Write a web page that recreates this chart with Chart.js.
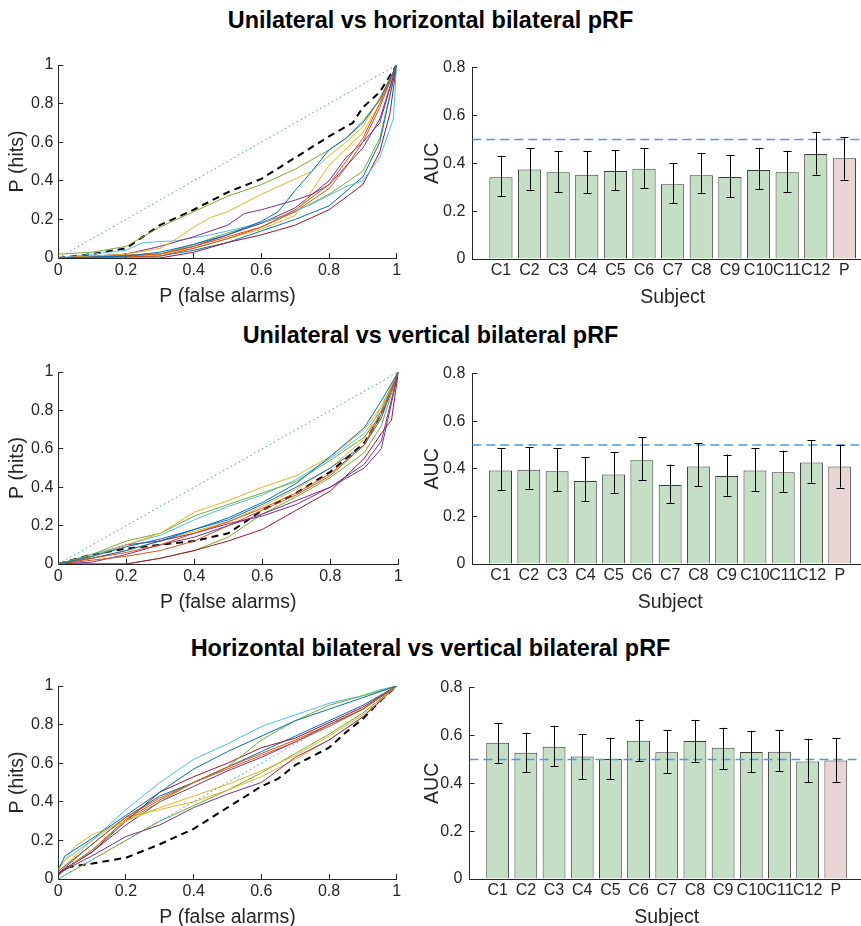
<!DOCTYPE html>
<html>
<head>
<meta charset="utf-8">
<script src="https://cdn.jsdelivr.net/npm/chart.js@4.4.1/dist/chart.umd.min.js"></script>
<style>
  html, body { margin: 0; padding: 0; background: #fff; }
  body { width: 861px; height: 926px; position: relative; overflow: hidden; font-family: "Liberation Sans", Arial, sans-serif; }
  canvas { position: absolute; }
  .ttl { position: absolute; left: 0; width: 861px; text-align: center; font-weight: bold; font-size: 23.4px; line-height: 26px; color: #000; }
</style>
</head>
<body>
<div class="ttl" style="top:7px">Unilateral vs horizontal bilateral pRF</div>
<div class="ttl" style="top:322px">Unilateral vs vertical bilateral pRF</div>
<div class="ttl" style="top:635px">Horizontal bilateral vs vertical bilateral pRF</div>
<script>
// ---- data ----
const subjects = ['C1', 'C2', 'C3', 'C4', 'C5', 'C6', 'C7', 'C8', 'C9', 'C10', 'C11', 'C12', 'P'];
const rocTicks = [0, 0.2, 0.4, 0.6, 0.8, 1];
const aucTicks = [0, 0.2, 0.4, 0.6, 0.8];

// AUC with error bar ends, per comparison
const aucUniHor = [0.342, 0.374, 0.363, 0.352, 0.368, 0.377, 0.312, 0.350, 0.343, 0.372, 0.363, 0.439, 0.421];
const loUniHor  = [0.262, 0.290, 0.279, 0.274, 0.287, 0.295, 0.234, 0.277, 0.259, 0.291, 0.281, 0.353, 0.332];
const hiUniHor  = [0.432, 0.462, 0.452, 0.450, 0.455, 0.462, 0.400, 0.441, 0.434, 0.463, 0.452, 0.531, 0.510];

const aucUniVer = [0.393, 0.396, 0.390, 0.349, 0.376, 0.436, 0.332, 0.410, 0.370, 0.393, 0.386, 0.426, 0.410];
const loUniVer  = [0.310, 0.316, 0.306, 0.264, 0.299, 0.352, 0.255, 0.327, 0.287, 0.306, 0.303, 0.342, 0.321];
const hiUniVer  = [0.487, 0.490, 0.486, 0.448, 0.471, 0.533, 0.418, 0.507, 0.460, 0.486, 0.476, 0.520, 0.501];

const aucHorVer = [0.570, 0.528, 0.553, 0.512, 0.502, 0.578, 0.530, 0.577, 0.549, 0.531, 0.532, 0.491, 0.495];
const loHorVer  = [0.486, 0.446, 0.472, 0.418, 0.417, 0.494, 0.443, 0.490, 0.459, 0.446, 0.450, 0.404, 0.406];
const hiHorVer  = [0.652, 0.612, 0.641, 0.604, 0.590, 0.666, 0.623, 0.665, 0.632, 0.619, 0.623, 0.586, 0.590];

// ROC curves [P(false alarms), P(hits)], controls C1..C12 then patient
const rocUniHor = [
  [[0,0],[0.2,0.01],[0.3,0.03],[0.4,0.07],[0.5,0.12],[0.6,0.19],[0.65,0.24],[0.7,0.35],[0.75,0.45],[0.8,0.56],[0.85,0.62],[0.9,0.70],[0.95,0.82],[1,1]],
  [[0,0],[0.3,0.01],[0.4,0.05],[0.5,0.10],[0.6,0.16],[0.7,0.25],[0.8,0.38],[0.85,0.50],[0.9,0.62],[0.95,0.80],[1,1]],
  [[0,0],[0.2,0.02],[0.3,0.05],[0.35,0.10],[0.4,0.16],[0.45,0.21],[0.5,0.24],[0.6,0.33],[0.7,0.41],[0.75,0.45],[0.8,0.53],[0.85,0.60],[0.9,0.68],[0.95,0.83],[1,1]],
  [[0,0],[0.2,0.02],[0.3,0.06],[0.4,0.11],[0.5,0.17],[0.55,0.23],[0.6,0.25],[0.7,0.30],[0.75,0.33],[0.8,0.38],[0.9,0.57],[0.95,0.72],[1,1]],
  [[0,0.02],[0.1,0.03],[0.2,0.06],[0.3,0.16],[0.4,0.24],[0.5,0.32],[0.6,0.38],[0.7,0.46],[0.8,0.56],[0.85,0.62],[0.9,0.71],[0.95,0.82],[1,1]],
  [[0,0],[0.1,0.02],[0.2,0.04],[0.25,0.08],[0.35,0.09],[0.45,0.12],[0.55,0.16],[0.65,0.21],[0.75,0.28],[0.85,0.37],[0.9,0.40],[0.95,0.52],[0.99,0.72],[1,1]],
  [[0,0],[0.3,0.0],[0.4,0.03],[0.5,0.08],[0.6,0.12],[0.7,0.17],[0.8,0.25],[0.9,0.38],[0.95,0.55],[0.98,0.75],[1,1]],
  [[0,0],[0.3,0.01],[0.4,0.04],[0.5,0.08],[0.6,0.14],[0.7,0.20],[0.8,0.27],[0.9,0.42],[0.95,0.60],[1,1]],
  [[0,0],[0.3,0.02],[0.4,0.06],[0.5,0.11],[0.6,0.16],[0.7,0.24],[0.8,0.36],[0.85,0.47],[0.9,0.60],[0.95,0.78],[1,1]],
  [[0,0],[0.3,0.02],[0.4,0.05],[0.5,0.10],[0.6,0.15],[0.7,0.22],[0.75,0.35],[0.8,0.48],[0.9,0.65],[0.95,0.80],[1,1]],
  [[0,0],[0.3,0.02],[0.4,0.06],[0.5,0.12],[0.6,0.18],[0.7,0.26],[0.8,0.40],[0.85,0.52],[0.9,0.60],[0.95,0.70],[1,1]],
  [[0,0],[0.3,0.02],[0.4,0.07],[0.5,0.13],[0.6,0.18],[0.7,0.24],[0.8,0.33],[0.9,0.45],[0.95,0.62],[1,1]]
];
const patientUniHor = [[0,0],[0.1,0.02],[0.2,0.05],[0.3,0.17],[0.4,0.25],[0.5,0.34],[0.6,0.41],[0.7,0.52],[0.8,0.63],[0.85,0.68],[0.87,0.70],[0.9,0.78],[0.95,0.86],[1,1]];

const rocUniVer = [
  [[0,0],[0.1,0.04],[0.2,0.09],[0.3,0.13],[0.4,0.18],[0.5,0.24],[0.6,0.32],[0.7,0.42],[0.8,0.56],[0.9,0.71],[0.95,0.85],[1,1]],
  [[0,0],[0.1,0.03],[0.2,0.06],[0.3,0.10],[0.4,0.16],[0.5,0.22],[0.6,0.29],[0.7,0.37],[0.8,0.47],[0.9,0.62],[0.95,0.78],[1,1]],
  [[0,0],[0.1,0.04],[0.2,0.10],[0.3,0.16],[0.4,0.27],[0.5,0.33],[0.6,0.40],[0.7,0.46],[0.8,0.56],[0.9,0.70],[0.95,0.82],[1,1]],
  [[0,0],[0.1,0.04],[0.2,0.10],[0.3,0.12],[0.4,0.16],[0.5,0.21],[0.6,0.25],[0.7,0.31],[0.8,0.40],[0.9,0.52],[0.95,0.64],[1,1]],
  [[0,0],[0.1,0.05],[0.2,0.12],[0.3,0.16],[0.4,0.25],[0.5,0.31],[0.6,0.37],[0.7,0.43],[0.8,0.54],[0.9,0.66],[0.95,0.78],[1,1]],
  [[0,0],[0.1,0.05],[0.2,0.10],[0.3,0.15],[0.4,0.23],[0.5,0.30],[0.6,0.36],[0.7,0.44],[0.8,0.55],[0.9,0.68],[0.95,0.80],[1,1]],
  [[0,0],[0.2,0.0],[0.3,0.03],[0.4,0.07],[0.5,0.12],[0.6,0.18],[0.7,0.28],[0.8,0.38],[0.9,0.55],[0.95,0.68],[0.98,0.75],[1,1]],
  [[0,0],[0.1,0.03],[0.2,0.07],[0.3,0.12],[0.4,0.18],[0.5,0.23],[0.6,0.31],[0.7,0.40],[0.8,0.50],[0.9,0.62],[0.95,0.76],[1,1]],
  [[0,0],[0.1,0.02],[0.2,0.04],[0.3,0.07],[0.4,0.12],[0.5,0.20],[0.6,0.28],[0.7,0.36],[0.8,0.46],[0.9,0.62],[0.95,0.80],[1,1]],
  [[0,0],[0.1,0.03],[0.2,0.07],[0.3,0.12],[0.4,0.17],[0.5,0.22],[0.6,0.30],[0.7,0.39],[0.8,0.50],[0.9,0.65],[0.95,0.82],[1,1]],
  [[0,0],[0.1,0.01],[0.2,0.05],[0.3,0.10],[0.4,0.14],[0.5,0.20],[0.6,0.26],[0.7,0.33],[0.8,0.40],[0.9,0.50],[0.95,0.60],[1,1]],
  [[0,0],[0.2,0.0],[0.3,0.03],[0.4,0.07],[0.5,0.14],[0.6,0.26],[0.7,0.35],[0.8,0.45],[0.9,0.58],[0.95,0.72],[1,1]]
];
const patientUniVer = [[0,0],[0.1,0.05],[0.2,0.08],[0.3,0.10],[0.4,0.12],[0.5,0.16],[0.6,0.28],[0.7,0.37],[0.8,0.48],[0.9,0.63],[0.95,0.78],[1,1]];

const rocHorVer = [
  [[0,0.05],[0.02,0.12],[0.1,0.21],[0.2,0.33],[0.3,0.45],[0.4,0.57],[0.5,0.66],[0.6,0.74],[0.7,0.82],[0.8,0.88],[0.9,0.94],[1,1]],
  [[0,0.04],[0.1,0.18],[0.2,0.32],[0.3,0.42],[0.4,0.50],[0.5,0.58],[0.6,0.65],[0.7,0.72],[0.8,0.80],[0.9,0.88],[1,1]],
  [[0,0.05],[0.05,0.17],[0.1,0.23],[0.2,0.30],[0.3,0.37],[0.4,0.43],[0.5,0.49],[0.6,0.56],[0.7,0.64],[0.8,0.74],[0.9,0.85],[1,1]],
  [[0,0.03],[0.1,0.12],[0.2,0.22],[0.3,0.28],[0.4,0.37],[0.5,0.44],[0.6,0.50],[0.7,0.63],[0.8,0.72],[0.9,0.84],[1,1]],
  [[0,0.02],[0.1,0.15],[0.2,0.30],[0.3,0.40],[0.4,0.50],[0.5,0.58],[0.6,0.72],[0.7,0.82],[0.8,0.90],[0.9,0.95],[1,1]],
  [[0,0.05],[0.02,0.10],[0.1,0.20],[0.2,0.36],[0.3,0.50],[0.4,0.62],[0.5,0.70],[0.6,0.79],[0.7,0.85],[0.8,0.91],[0.9,0.95],[0.95,0.98],[1,1]],
  [[0,0.03],[0.1,0.14],[0.2,0.30],[0.3,0.45],[0.4,0.53],[0.5,0.60],[0.6,0.68],[0.7,0.73],[0.8,0.81],[0.9,0.89],[1,1]],
  [[0,0.03],[0.1,0.18],[0.2,0.32],[0.3,0.43],[0.4,0.50],[0.5,0.58],[0.6,0.66],[0.7,0.74],[0.8,0.82],[0.9,0.90],[1,1]],
  [[0,0.03],[0.1,0.15],[0.2,0.31],[0.3,0.41],[0.4,0.50],[0.5,0.57],[0.6,0.64],[0.7,0.71],[0.8,0.79],[0.9,0.88],[1,1]],
  [[0,0.04],[0.1,0.20],[0.2,0.32],[0.3,0.36],[0.4,0.40],[0.5,0.46],[0.6,0.53],[0.7,0.62],[0.8,0.72],[0.9,0.84],[1,1]],
  [[0,0.03],[0.1,0.14],[0.2,0.28],[0.3,0.40],[0.4,0.48],[0.5,0.56],[0.6,0.63],[0.7,0.71],[0.8,0.80],[0.9,0.88],[1,1]],
  [[0,0.0],[0.1,0.10],[0.2,0.20],[0.3,0.30],[0.4,0.38],[0.5,0.46],[0.6,0.55],[0.7,0.65],[0.8,0.75],[0.9,0.86],[1,1]]
];
const patientHorVer = [[0,0.02],[0.02,0.06],[0.1,0.08],[0.2,0.11],[0.3,0.18],[0.4,0.26],[0.5,0.37],[0.6,0.48],[0.65,0.52],[0.7,0.59],[0.8,0.68],[0.85,0.76],[0.9,0.83],[0.95,0.92],[1,1]];

const chanceLine = [[0, 0], [1, 1]];
const aucChance = 0.5;

// ---- styling ----
const lineColors = ['#0072BD', '#D95319', '#EDB120', '#7E2F8E', '#77AC30', '#4DBEEE', '#A2142F'];
const axisColor = '#262626';
const FONT = '"Liberation Sans", Arial, Helvetica, sans-serif';
Chart.defaults.font.family = FONT;
Chart.defaults.color = axisColor;

function addCanvas(left, top, w, h) {
  const c = document.createElement('canvas');
  c.width = w; c.height = h;
  c.style.left = left + 'px'; c.style.top = top + 'px';
  c.style.width = w + 'px'; c.style.height = h + 'px';
  document.body.appendChild(c);
  return c;
}

const fmt = v => String(+(+v).toFixed(1));

function axisY(min, max, ticks, label, width, titlePad, tickPad) {
  return {
    type: 'linear', min: min, max: max,
    afterBuildTicks: s => { s.ticks = ticks.map(v => ({ value: v })); },
    ticks: { callback: fmt, font: { size: 16 }, color: axisColor, padding: tickPad },
    grid: { drawOnChartArea: false, color: axisColor, tickLength: -5 },
    border: { color: axisColor, width: 1 },
    title: { display: true, text: label, font: { size: 19.5 }, color: axisColor, padding: { top: titlePad, bottom: 0 } },
    afterFit: s => { s.width = width; }
  };
}

function rocChart(area, curves, patient) {
  const top = area.top - 20, bottom = area.bottom + 62;
  const c = addCanvas(0, top, 420, bottom - top);
  const ds = [{
    data: chanceLine.map(p => ({ x: p[0], y: p[1] })),
    borderColor: '#3b8fd4', borderWidth: 1, borderDash: [1.5, 3]
  }];
  curves.forEach((cv, i) => ds.push({
    data: cv.map(p => ({ x: p[0], y: p[1] })),
    borderColor: lineColors[i % 7], borderWidth: 1
  }));
  ds.push({
    data: patient.map(p => ({ x: p[0], y: p[1] })),
    borderColor: '#000', borderWidth: 2, borderDash: [7, 5]
  });
  ds.forEach(d => { d.pointRadius = 0; d.tension = 0; d.fill = false; });
  new Chart(c, {
    type: 'line',
    data: { datasets: ds },
    options: {
      responsive: false, animation: false, events: [],
      plugins: { legend: { display: false }, tooltip: { enabled: false } },
      layout: { padding: { top: 20, right: 420 - area.right, left: 0, bottom: 0 } },
      scales: {
        x: {
          type: 'linear', min: 0, max: 1,
          afterBuildTicks: s => { s.ticks = rocTicks.map(v => ({ value: v })); },
          ticks: { callback: fmt, font: { size: 16 }, color: axisColor, padding: 8, maxRotation: 0 },
          grid: { drawOnChartArea: false, color: axisColor, tickLength: -5 },
          border: { color: axisColor, width: 1 },
          title: { display: true, text: 'P (false alarms)', font: { size: 19.5 }, color: axisColor, padding: { top: 0, bottom: 11.5 } },
          afterFit: s => { s.height = 62; }
        },
        y: axisY(0, 1, rocTicks, 'P (hits)', area.left, 6, 10)
      }
    }
  });
}

const errorBars = {
  id: 'errorBars',
  afterDatasetsDraw(chart) {
    const ds = chart.data.datasets.find(d => d.errLo);
    if (!ds) return;
    const xs = chart.scales.x, ys = chart.scales.y, ctx = chart.ctx;
    ctx.save();
    ctx.strokeStyle = '#000';
    ctx.lineWidth = 1;
    ds.data.forEach((p, i) => {
      const x = Math.round(xs.getPixelForValue(p.x)) + 0.5;
      const y1 = ys.getPixelForValue(ds.errLo[i]);
      const y2 = ys.getPixelForValue(ds.errHi[i]);
      ctx.beginPath();
      ctx.moveTo(x, y1); ctx.lineTo(x, y2);
      ctx.moveTo(x - 4, Math.round(y1) + 0.5); ctx.lineTo(x + 4, Math.round(y1) + 0.5);
      ctx.moveTo(x - 4, Math.round(y2) + 0.5); ctx.lineTo(x + 4, Math.round(y2) + 0.5);
      ctx.stroke();
    });
    ctx.restore();
  }
};

function aucChart(area, auc, lo, hi) {
  const cl = 420, cw = 460;
  const top = area.top - 20, bottom = area.bottom + 62;
  const c = addCanvas(cl, top, cw, bottom - top);
  new Chart(c, {
    type: 'bar',
    data: {
      datasets: [{
        type: 'line', order: 0,
        data: [{ x: 0, y: aucChance }, { x: subjects.length + 1, y: aucChance }],
        borderColor: '#4a9ce0', borderWidth: 1.5, borderDash: [9, 5], pointRadius: 0
      }, {
        type: 'bar', order: 1,
        data: subjects.map((s, i) => ({ x: i + 1, y: auc[i] })),
        errLo: lo, errHi: hi,
        backgroundColor: subjects.map(s => s === 'P' ? '#ead5d5' : '#c4dfc6'),
        borderColor: '#3a3a3a', borderWidth: 1,
        barPercentage: 0.81, categoryPercentage: 1
      }]
    },
    options: {
      responsive: false, animation: false, events: [],
      plugins: { legend: { display: false }, tooltip: { enabled: false } },
      layout: { padding: { top: 20, right: cw - (area.right - cl), left: 0, bottom: 0 } },
      scales: {
        x: {
          type: 'linear', min: 0, max: subjects.length + 1, offset: false,
          afterBuildTicks: s => { s.ticks = subjects.map((_, i) => ({ value: i + 1 })); },
          ticks: { callback: v => subjects[v - 1] || '', font: { size: 16 }, color: axisColor, padding: 2, autoSkip: false, maxRotation: 0 },
          grid: { drawOnChartArea: false, drawTicks: false, color: axisColor },
          border: { color: axisColor, width: 1 },
          title: { display: true, text: 'Subject', font: { size: 19.5 }, color: axisColor, padding: { top: 0, bottom: 12 } },
          afterFit: s => { s.height = 62; }
        },
        y: axisY(0, 0.8, aucTicks, 'AUC', area.left - cl, 0.6, 12)
      }
    },
    plugins: [errorBars]
  });
}

// ---- panels ----
rocChart({ left: 58.3, right: 396.7, top: 65, bottom: 258 }, rocUniHor, patientUniHor);
aucChart({ left: 472.3, right: 873, top: 65.7, bottom: 259 }, aucUniHor, loUniHor, hiUniHor);

rocChart({ left: 58.3, right: 398.3, top: 371.7, bottom: 564.3 }, rocUniVer, patientUniVer);
aucChart({ left: 472.3, right: 868, top: 371.7, bottom: 564.3 }, aucUniVer, loUniVer, hiUniVer);

rocChart({ left: 58.3, right: 396.7, top: 686, bottom: 879 }, rocHorVer, patientHorVer);
aucChart({ left: 469.5, right: 864, top: 686, bottom: 879.3 }, aucHorVer, loHorVer, hiHorVer);
</script>
</body>
</html>
